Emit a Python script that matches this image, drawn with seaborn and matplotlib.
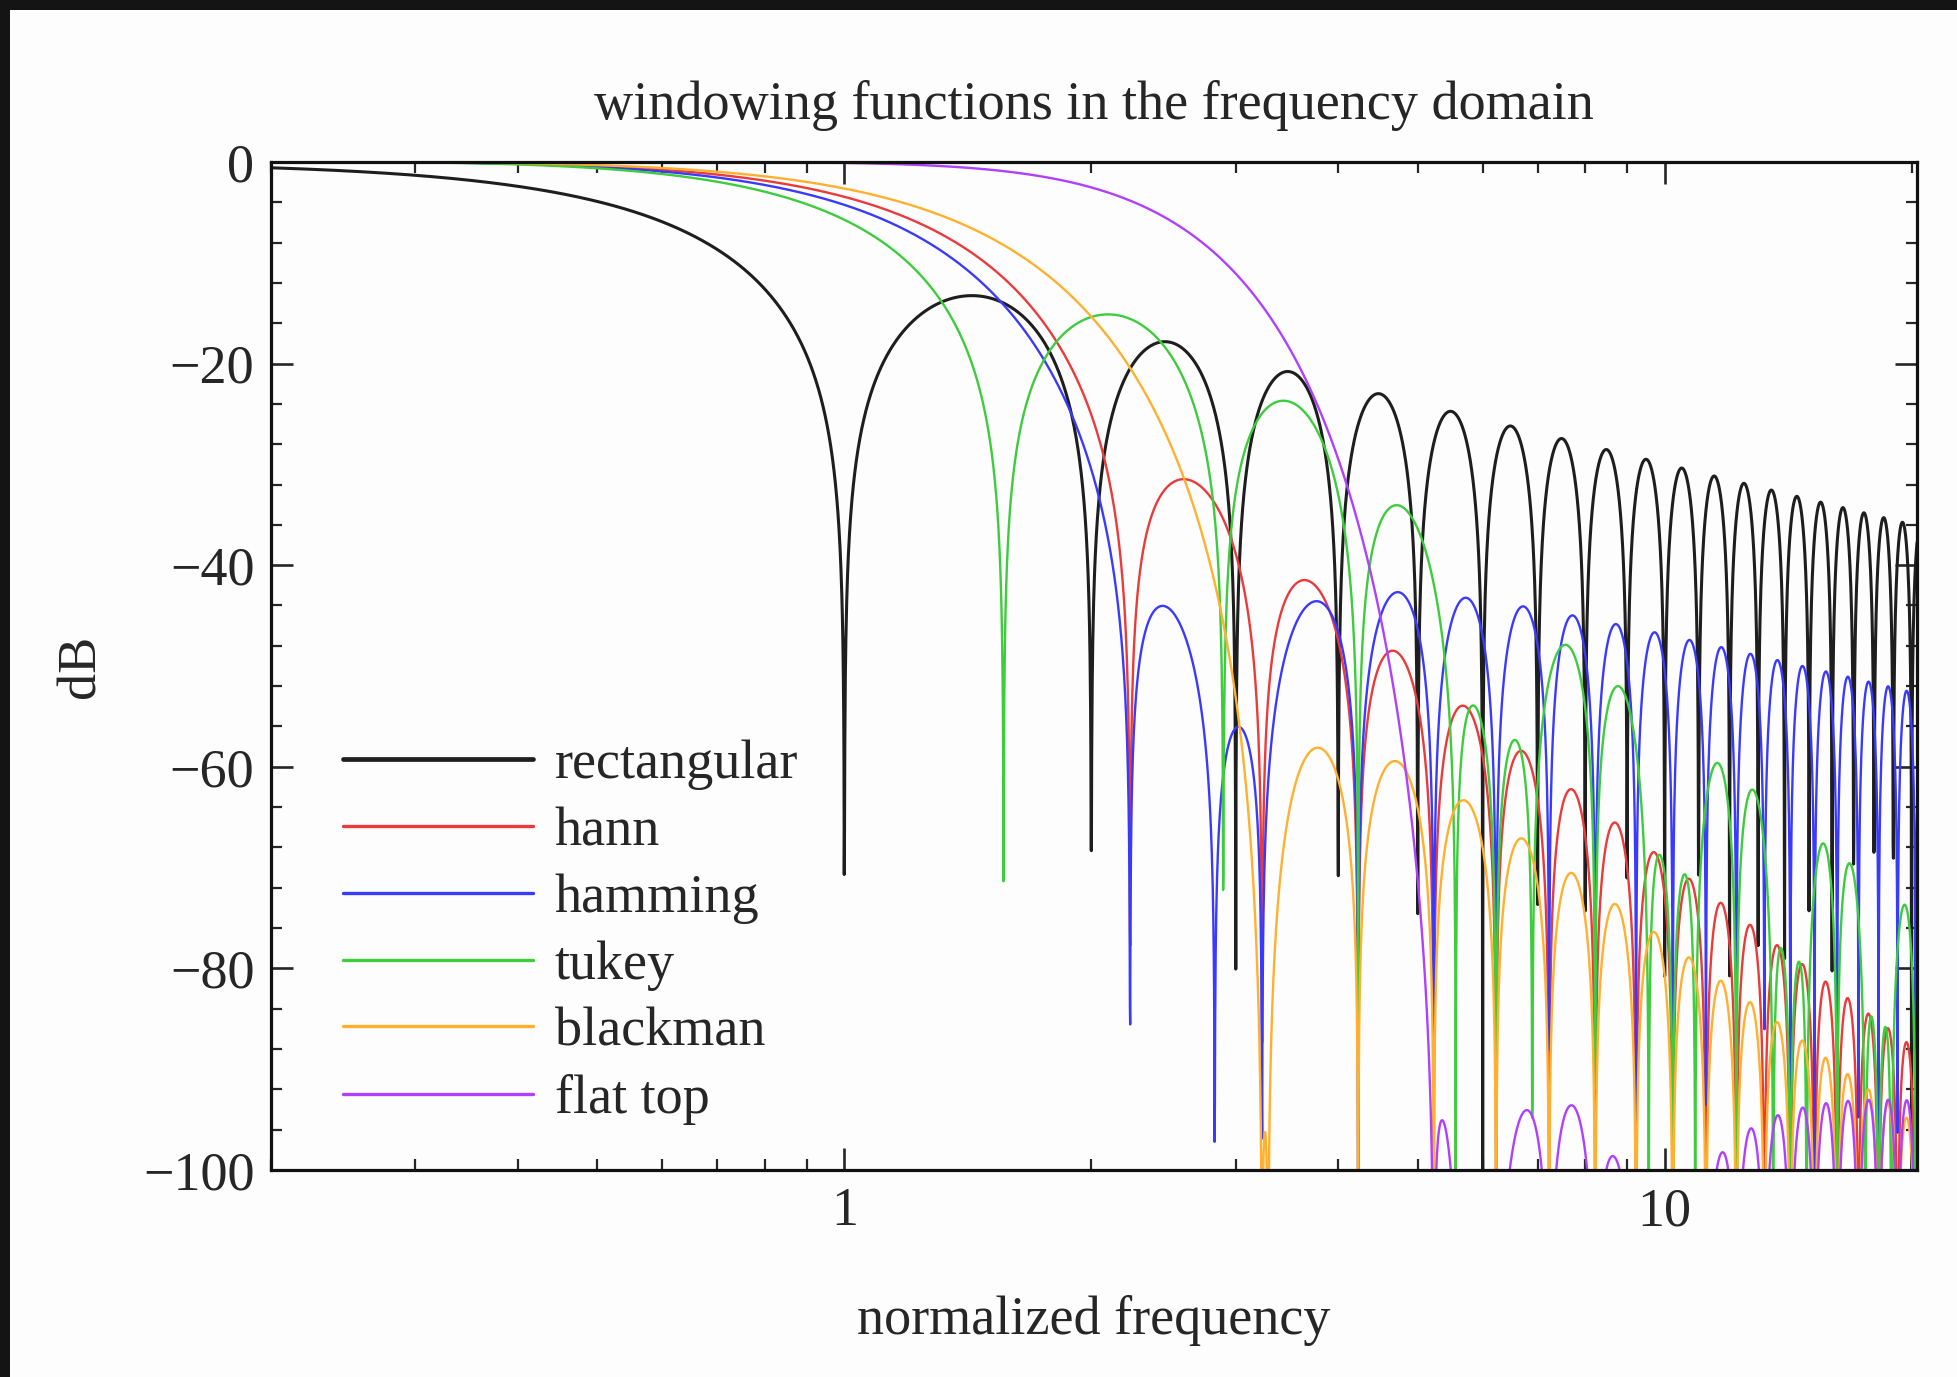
import numpy as np
import matplotlib
matplotlib.use("Agg")
import matplotlib.pyplot as plt
import matplotlib.patches as mpatches
from matplotlib.ticker import LogLocator, NullFormatter
import seaborn as sns

# windows, in legend order
window_names = ["rectangular", "hann", "hamming", "tukey", "blackman", "flat top"]
window_colors = ["#1e1e1e", "#ea3a3a", "#3a3aff", "#3ccc3c", "#ffb02e", "#b040ff"]

# cosine-sum coefficients (a0, a1, ...) of each window on t in [-1/2, 1/2]
rect_coef = [1.0]
hann_coef = [0.5, 0.5]
hamming_coef = [0.54, 0.46]
blackman_coef = [0.42, 0.5, 0.08]
flattop_coef = [0.21557895, 0.41663158, 0.277263158, 0.083578947, 0.006947368]
tukey_alpha = 0.5

# the tapered curves sit ~0.23 bins right of the integer nulls in the picture
freq_offset = [0.0, 0.23, 0.23, 0.23, 0.23, 0.23]

y_ticks = [0, -20, -40, -60, -80, -100]
x_ticks = [1, 10]
x_ticklabels = ["1", "10"]


def cosine_sum_spectrum(f, coef):
    W = coef[0] * np.sinc(f)
    for k, a in enumerate(coef[1:], start=1):
        W = W + 0.5 * a * (np.sinc(f - k) + np.sinc(f + k))
    return W / coef[0]


def tukey_spectrum(f, alpha):
    # rect of width (1 - alpha/2) convolved with a cosine pulse of width alpha/2
    den = 1 - (alpha * f) ** 2
    ok = np.abs(den) > 1e-9
    taper = np.where(ok, np.cos(np.pi * f * alpha / 2) / np.where(ok, den, 1.0), np.pi / 4)
    return np.sinc((1 - alpha / 2) * f) * taper


def to_db(W):
    return 20 * np.log10(np.maximum(np.abs(W), 1e-10))


freq = np.geomspace(0.2, 20.5, 6000)

spectra = {
    "rectangular": lambda f: cosine_sum_spectrum(f, rect_coef),
    "hann": lambda f: cosine_sum_spectrum(f, hann_coef),
    "hamming": lambda f: cosine_sum_spectrum(f, hamming_coef),
    "tukey": lambda f: tukey_spectrum(f, tukey_alpha),
    "blackman": lambda f: cosine_sum_spectrum(f, blackman_coef),
    "flat top": lambda f: cosine_sum_spectrum(f, flattop_coef),
}

sns.set_style("ticks")
plt.rcParams["font.family"] = ["Liberation Serif", "DejaVu Serif"]
plt.rcParams["axes.unicode_minus"] = True

fig = plt.figure(figsize=(19.58, 13.77), dpi=100, facecolor="#141414")
# screenshot-like dark frame on the top and left edges
fig.patches.append(mpatches.Rectangle((10 / 1958, 0), 1, 1 - 10 / 1377, transform=fig.transFigure,
                                      facecolor="#fdfdfd", edgecolor="none", zorder=-10))
ax = fig.add_axes([0.1384, 0.1503, 0.979 - 0.1384, 0.8824 - 0.1503])
ax.set_facecolor("#fdfdfd")

for name, color, off in zip(window_names, window_colors, freq_offset):
    db = to_db(spectra[name](np.abs(freq - off)))
    lw = 2.2 if name == "rectangular" else 1.7
    sns.lineplot(x=freq, y=db, ax=ax, color=color, linewidth=lw, label=name,
                 estimator=None, errorbar=None, sort=False)

ax.set_xscale("log")
ax.set_xlim(0.2, 20.3)
ax.set_ylim(-100, 0)

ax.set_yticks(y_ticks)
ax.yaxis.set_minor_locator(plt.MultipleLocator(4))
ax.set_xticks(x_ticks, labels=x_ticklabels)
ax.xaxis.set_minor_locator(LogLocator(base=10, subs=np.arange(2, 10), numticks=20))
ax.xaxis.set_minor_formatter(NullFormatter())

ax.tick_params(which="both", direction="in", top=True, right=True, labelsize=39, pad=12)
ax.tick_params(which="major", length=16, width=1.9)
ax.tick_params(which="minor", length=8, width=1.6)
for sp in ax.spines.values():
    sp.set_linewidth(2.3)
    sp.set_color("#111111")

ax.set_title("windowing functions in the frequency domain", fontsize=39, pad=31)
ax.set_xlabel("normalized frequency", fontsize=39)
ax.xaxis.set_label_coords(0.5, -0.124)
ax.set_ylabel("dB", fontsize=39)
ax.yaxis.set_label_coords(-0.1, 0.5)

leg = ax.legend(loc="lower left", bbox_to_anchor=(0.044, 0.045), frameon=False, fontsize=39,
                handlelength=3.5, handletextpad=0.4, labelspacing=0.3, borderpad=0, borderaxespad=0)
for line in leg.get_lines():
    line.set_linewidth(3.4 if line.get_color() == window_colors[0] else 2.4)

plt.savefig("out.png", dpi=100, facecolor=fig.get_facecolor())
